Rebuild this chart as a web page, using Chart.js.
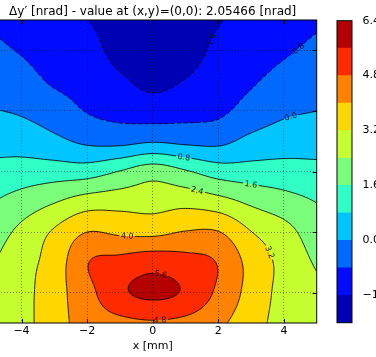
<!DOCTYPE html>
<html>
<head>
<meta charset="utf-8">
<script src="https://cdn.jsdelivr.net/npm/chart.js@4/dist/chart.umd.min.js"></script>
<style>
  html, body { margin: 0; padding: 0; background: #fff; overflow: hidden; width: 376px; height: 357px; }
  #main { position: absolute; left: -14px; top: 0; }
  #cbar { position: absolute; left: 330px; top: 0; }
</style>
</head>
<body>
<canvas id="main" width="334" height="357"></canvas>
<canvas id="cbar" width="46" height="357"></canvas>
<script>
// ---- data -------------------------------------------------------------
// sample positions of the map (mm)
const xGrid = [-5, -4, -3, -2, -1, 0, 1, 2, 3, 4, 5];
const yGrid = [5, 4, 3, 2, 1, 0, -1, -2, -3, -4, -5];

// Δy' [nrad], one row per y position (from y = 5 down to y = -5)
const row_y5  = [-0.90, -1.20, -1.50, -1.60, -1.95, -2.25, -2.00, -1.65, -1.35, -1.15, -0.93];
const row_y4  = [-0.58, -0.87, -1.25, -1.35, -1.85, -2.10, -1.95, -1.43, -1.22, -0.91, -0.62];
const row_y3  = [-0.28, -0.48, -0.92, -1.09, -1.48, -1.80, -1.57, -1.16, -0.90, -0.52, -0.31];
const row_y2  = [ 0.05, -0.09, -0.41, -0.84, -1.05, -1.19, -1.08, -0.95, -0.50, -0.13,  0.00];
const row_y1  = [ 0.52,  0.45,  0.19, -0.15, -0.23, -0.06, -0.18, -0.19,  0.22,  0.42,  0.49];
const row_y0  = [ 1.01,  1.15,  1.20,  1.23,  1.63, 2.05466, 1.68,  1.23,  1.14,  1.11,  1.01];
const row_ym1 = [ 1.53,  1.93,  2.35,  2.79,  2.88,  2.86,  2.95,  2.70,  2.25,  1.91,  1.58];
const row_ym2 = [ 1.92,  2.60,  3.30,  4.00,  3.87,  3.81,  4.04,  4.03,  3.22,  2.69,  1.94];
const row_ym3 = [ 2.30,  2.90,  3.55,  4.76,  5.05,  5.30,  5.10,  4.75,  3.72,  2.97,  2.30];
const row_ym4 = [ 2.65,  2.95,  3.68,  4.53,  5.45,  5.75,  5.50,  4.64,  3.72,  2.95,  2.60];
const row_ym5 = [ 2.75,  2.95,  3.69,  4.30,  4.55,  4.70,  4.55,  4.15,  3.54,  2.90,  2.75];

// contour levels and their fill colours (jet)
const levels = [-2.4, -1.6, -0.8, 0.0, 0.8, 1.6, 2.4, 3.2, 4.0, 4.8, 5.6, 6.4];
const bandColors = [
  'rgb(0,0,180)', 'rgb(0,11,255)', 'rgb(0,105,255)', 'rgb(0,197,255)',
  'rgb(48,255,198)', 'rgb(123,255,123)', 'rgb(198,255,48)', 'rgb(255,215,0)',
  'rgb(255,130,0)', 'rgb(255,43,0)', 'rgb(180,0,0)'
];

// tick values
const xTicks = [-4, -2, 0, 2, 4];
const yTicks = [-4, -2, 0, 2, 4];
const cbarTicks = [-1.6, 0.0, 1.6, 3.2, 4.8, 6.4];

// where the inline contour labels sit (mm)
const labelSpots = [
  { level: -1.6, x: 1.84, y: 4.27 },
  { level: -0.8, x: 4.31, y: 4.14 },
  { level:  0.0, x: 4.22, y: 1.77 },
  { level:  0.8, x: 0.95, y: 0.48 },
  { level:  1.6, x: 3.00, y: -0.38 },
  { level:  2.4, x: 1.38, y: -0.54 },
  { level:  3.2, x: 3.52, y: -2.69 },
  { level:  4.0, x: -0.78, y: -2.16 },
  { level:  5.6, x: 0.26, y: -3.32 },
  { level:  4.8, x: 0.22, y: -4.87 }
];

// ---- field interpolation (Catmull-Rom bicubic) ---------------------------
const G = [row_y5, row_y4, row_y3, row_y2, row_y1, row_y0, row_ym1, row_ym2, row_ym3, row_ym4, row_ym5];
const NR = G.length - 1, NC = G[0].length - 1;
function gval(r, c) {
  if (r < 0) return 2 * gval(0, c) - gval(1, c);
  if (r > NR) return 2 * gval(NR, c) - gval(NR - 1, c);
  if (c < 0) return 2 * gval(r, 0) - gval(r, 1);
  if (c > NC) return 2 * gval(r, NC) - gval(r, NC - 1);
  return G[r][c];
}
function cr(p0, p1, p2, p3, t) {
  return 0.5 * (2 * p1 + (-p0 + p2) * t + (2 * p0 - 5 * p1 + 4 * p2 - p3) * t * t +
                (-p0 + 3 * p1 - 3 * p2 + p3) * t * t * t);
}
function field(x, y) {
  const gx = (x - xGrid[0]) / (xGrid[1] - xGrid[0]);
  const gy = (y - yGrid[0]) / (yGrid[1] - yGrid[0]);
  const c = Math.min(Math.max(Math.floor(gx), 0), NC - 1);
  const r = Math.min(Math.max(Math.floor(gy), 0), NR - 1);
  const tx = gx - c, ty = gy - r;
  const v = [];
  for (let k = -1; k <= 2; k++) {
    v.push(cr(gval(r + k, c - 1), gval(r + k, c), gval(r + k, c + 1), gval(r + k, c + 2), tx));
  }
  return cr(v[0], v[1], v[2], v[3], ty);
}
function bandOf(v) {
  let k = 0;
  while (k < bandColors.length - 1 && v >= levels[k + 1]) k++;
  return k;
}

// ---- marching squares with segment chaining ------------------------------
const NS = 201;
const xs = [], ys = [];
for (let i = 0; i < NS; i++) {
  xs.push(-5 + 10 * i / (NS - 1));
  ys.push(-5 + 10 * i / (NS - 1));
}
const F = ys.map(y => xs.map(x => field(x, y)));

function traceLevel(lev) {
  const pts = new Map();
  const segs = [];
  const edge = (type, j, i) => {
    const key = type + j + ',' + i;
    if (!pts.has(key)) {
      let p;
      if (type === 'h') {
        const a = F[j][i], b = F[j][i + 1], t = (lev - a) / (b - a);
        p = [xs[i] + t * (xs[i + 1] - xs[i]), ys[j]];
      } else {
        const a = F[j][i], b = F[j + 1][i], t = (lev - a) / (b - a);
        p = [xs[i], ys[j] + t * (ys[j + 1] - ys[j])];
      }
      pts.set(key, p);
    }
    return key;
  };
  for (let j = 0; j < NS - 1; j++) {
    for (let i = 0; i < NS - 1; i++) {
      const a = F[j][i], b = F[j][i + 1], c = F[j + 1][i + 1], d = F[j + 1][i];
      const code = (a >= lev ? 1 : 0) | (b >= lev ? 2 : 0) | (c >= lev ? 4 : 0) | (d >= lev ? 8 : 0);
      if (code === 0 || code === 15) continue;
      const B = () => edge('h', j, i), T = () => edge('h', j + 1, i);
      const L = () => edge('v', j, i), R = () => edge('v', j, i + 1);
      const centre = (a + b + c + d) / 4 >= lev;
      switch (code) {
        case 1: case 14: segs.push([L(), B()]); break;
        case 2: case 13: segs.push([B(), R()]); break;
        case 3: case 12: segs.push([L(), R()]); break;
        case 4: case 11: segs.push([R(), T()]); break;
        case 6: case 9: segs.push([B(), T()]); break;
        case 7: case 8: segs.push([L(), T()]); break;
        case 5:
          if (centre) { segs.push([B(), R()]); segs.push([T(), L()]); }
          else { segs.push([L(), B()]); segs.push([R(), T()]); }
          break;
        case 10:
          if (centre) { segs.push([L(), B()]); segs.push([R(), T()]); }
          else { segs.push([B(), R()]); segs.push([T(), L()]); }
          break;
      }
    }
  }
  const adj = new Map();
  segs.forEach((s, k) => {
    for (const key of s) {
      if (!adj.has(key)) adj.set(key, []);
      adj.get(key).push(k);
    }
  });
  const used = new Array(segs.length).fill(false);
  const lines = [];
  const walk = (startKey, fromSeg) => {
    const out = [];
    let key = startKey, seg = fromSeg;
    while (true) {
      const next = (adj.get(key) || []).find(k => k !== seg && !used[k]);
      if (next === undefined) break;
      used[next] = true;
      const s = segs[next];
      key = s[0] === key ? s[1] : s[0];
      out.push(key);
      seg = next;
    }
    return out;
  };
  for (let k = 0; k < segs.length; k++) {
    if (used[k]) continue;
    used[k] = true;
    const fwd = walk(segs[k][1], k);
    const back = walk(segs[k][0], k);
    const keys = back.reverse().concat([segs[k][0], segs[k][1]], fwd);
    lines.push(keys.map(key => pts.get(key)));
  }
  return lines;
}
const contourLines = levels.slice(1, -1).map(lev => ({ lev, lines: traceLevel(lev) }));

// ---- plugins -------------------------------------------------------------
const FONT = 'DejaVu Sans';
const fmtMinus = v => (v < 0 ? '\u2212' : '') + Math.abs(v).toFixed(1);

const contourPlugin = {
  id: 'contourMap',
  beforeDatasetsDraw(chart) {
    const { ctx, chartArea: a, scales: { x, y } } = chart;
    const x0 = Math.floor(a.left), y0 = Math.floor(a.top);
    const w = Math.ceil(a.right) - x0, h = Math.ceil(a.bottom) - y0;
    const off = document.createElement('canvas');
    off.width = w; off.height = h;
    const octx = off.getContext('2d');
    const img = octx.createImageData(w, h);
    const rgb = bandColors.map(c => c.match(/\d+/g).map(Number));
    for (let j = 0; j < h; j++) {
      const yv = y.getValueForPixel(y0 + j + 0.5);
      for (let i = 0; i < w; i++) {
        const xv = x.getValueForPixel(x0 + i + 0.5);
        const col = rgb[bandOf(field(xv, yv))];
        const p = (j * w + i) * 4;
        img.data[p] = col[0]; img.data[p + 1] = col[1]; img.data[p + 2] = col[2]; img.data[p + 3] = 255;
      }
    }
    octx.putImageData(img, 0, 0);
    ctx.save();
    ctx.beginPath();
    ctx.rect(a.left, a.top, a.right - a.left, a.bottom - a.top);
    ctx.clip();
    ctx.drawImage(off, x0, y0);
    ctx.restore();
  },
  afterDatasetsDraw(chart) {
    const { ctx, chartArea: a, scales: { x, y } } = chart;
    const valAt = (px, py) => field(x.getValueForPixel(px), y.getValueForPixel(py));
    ctx.save();
    ctx.font = '8px "' + FONT + '"';
    // place labels on their contour and orient them along it
    const placed = labelSpots.map(s => {
      let px = x.getPixelForValue(s.x), py = y.getPixelForValue(s.y);
      let ang = 0;
      for (let it = 0; it < 6; it++) {
        const gx = (valAt(px + 1, py) - valAt(px - 1, py)) / 2;
        const gy = (valAt(px, py + 1) - valAt(px, py - 1)) / 2;
        const g2 = gx * gx + gy * gy;
        const dv = s.level - valAt(px, py);
        if (g2 > 1e-9) { px += dv * gx / g2; py += dv * gy / g2; }
        ang = Math.atan2(gx, -gy);
      }
      if (ang > Math.PI / 2) ang -= Math.PI;
      if (ang < -Math.PI / 2) ang += Math.PI;
      const text = s.level.toFixed(1);
      const tw = ctx.measureText(text).width;
      return { px, py, ang, text, tw };
    });
    // contour lines with gaps under the labels
    const clip = new Path2D();
    clip.rect(a.left, a.top, a.right - a.left, a.bottom - a.top);
    placed.forEach(p => {
      const hw = p.tw / 2 + 1.5, hh = 4.5;
      const c = Math.cos(p.ang), s = Math.sin(p.ang);
      const corner = (u, v) => [p.px + u * c - v * s, p.py + u * s + v * c];
      const q = [corner(-hw, -hh), corner(hw, -hh), corner(hw, hh), corner(-hw, hh)];
      clip.moveTo(q[0][0], q[0][1]);
      for (let k = 1; k < 4; k++) clip.lineTo(q[k][0], q[k][1]);
      clip.closePath();
    });
    ctx.save();
    ctx.clip(clip, 'evenodd');
    ctx.lineWidth = 1;
    ctx.strokeStyle = 'rgba(0,0,0,0.85)';
    ctx.lineJoin = 'round';
    contourLines.forEach(({ lev, lines }) => {
      ctx.setLineDash(lev < 0 ? [4, 2.5] : []);
      ctx.beginPath();
      lines.forEach(line => {
        line.forEach((pt, k) => {
          const px = x.getPixelForValue(pt[0]), py = y.getPixelForValue(pt[1]);
          if (k === 0) ctx.moveTo(px, py); else ctx.lineTo(px, py);
        });
      });
      ctx.stroke();
    });
    ctx.restore();
    // label text
    ctx.fillStyle = '#111';
    ctx.textAlign = 'center';
    ctx.textBaseline = 'middle';
    placed.forEach(p => {
      ctx.save();
      ctx.translate(p.px, p.py);
      ctx.rotate(p.ang);
      ctx.fillText(p.text, 0, 0.5);
      ctx.restore();
    });
    ctx.restore();
  },
  afterDraw(chart) {
    const { ctx, chartArea: a, scales: { x, y } } = chart;
    ctx.save();
    ctx.strokeStyle = '#000';
    ctx.lineWidth = 1;
    ctx.beginPath();
    const tl = 4;
    xTicks.forEach(v => {
      const px = Math.round(x.getPixelForValue(v)) + 0.5;
      ctx.moveTo(px, a.bottom); ctx.lineTo(px, a.bottom - tl);
      ctx.moveTo(px, a.top); ctx.lineTo(px, a.top + tl);
    });
    yTicks.forEach(v => {
      const py = Math.round(y.getPixelForValue(v)) + 0.5;
      ctx.moveTo(a.left, py); ctx.lineTo(a.left + tl, py);
      ctx.moveTo(a.right, py); ctx.lineTo(a.right - tl, py);
    });
    ctx.stroke();
    ctx.strokeRect(a.left, a.top, a.right - a.left, a.bottom - a.top);
    ctx.restore();
  }
};

// ---- main contour chart ---------------------------------------------------
new Chart(document.getElementById('main'), {
  type: 'scatter',
  data: { datasets: [] },
  options: {
    responsive: false,
    animation: false,
    events: [],
    layout: { padding: { left: 2.7, right: 3.3, top: 0, bottom: 0 } },
    plugins: {
      legend: { display: false },
      tooltip: { enabled: false },
      title: {
        display: true,
        text: 'Δy′ [nrad] - value at (x,y)=(0,0): ' + row_y0[xGrid.indexOf(0)].toFixed(5) + ' [nrad]',
        color: '#000',
        font: { family: FONT, size: 12, weight: 'normal' },
        padding: { top: 5, bottom: 0.6 }
      }
    },
    scales: {
      x: {
        type: 'linear', min: -5, max: 5, position: 'bottom',
        afterBuildTicks: s => { s.ticks = xTicks.map(v => ({ value: v })); },
        afterFit: s => { s.height = 34; },
        grid: { z: 1, color: 'rgba(0,0,0,0.45)', lineWidth: 1, drawTicks: false },
        border: { display: false, dash: [1, 2] },
        ticks: {
          padding: 2, color: '#000', font: { family: FONT, size: 11 },
          callback: v => (v < 0 ? '\u2212' : '') + Math.abs(v)
        },
        title: {
          display: true, text: 'x [mm]', color: '#000',
          font: { family: FONT, size: 11 }, padding: { top: 0, bottom: 4.4 }
        }
      },
      y: {
        type: 'linear', min: -5, max: 5, position: 'left',
        afterBuildTicks: s => { s.ticks = yTicks.map(v => ({ value: v })); },
        afterFit: s => { s.width = 0; },
        grid: { z: 1, color: 'rgba(0,0,0,0.45)', lineWidth: 1, drawTicks: false },
        border: { display: false, dash: [1, 2] },
        ticks: { display: false }
      }
    }
  },
  plugins: [contourPlugin]
});

// ---- colour bar -------------------------------------------------------------
const cbarFrame = {
  id: 'cbarFrame',
  afterDraw(chart) {
    const { ctx, chartArea: a } = chart;
    ctx.save();
    ctx.strokeStyle = '#000';
    ctx.lineWidth = 1;
    ctx.strokeRect(a.left, a.top, a.right - a.left, a.bottom - a.top);
    ctx.restore();
  }
};
new Chart(document.getElementById('cbar'), {
  type: 'bar',
  data: {
    labels: [''],
    datasets: bandColors.map((col, k) => ({
      data: [[levels[k], levels[k + 1]]],
      backgroundColor: col,
      borderWidth: 0,
      barPercentage: 1,
      categoryPercentage: 1,
      grouped: false
    }))
  },
  options: {
    responsive: false,
    animation: false,
    events: [],
    layout: { padding: { left: 7, right: 0, top: 20.7, bottom: 34.3 } },
    plugins: { legend: { display: false }, tooltip: { enabled: false } },
    scales: {
      x: { display: false },
      y: {
        position: 'right', min: levels[0], max: levels[levels.length - 1],
        afterBuildTicks: s => { s.ticks = cbarTicks.map(v => ({ value: v })); },
        afterFit: s => { s.width = 24; },
        grid: { display: false },
        border: { display: false },
        ticks: {
          padding: 2.5, color: '#000', font: { family: FONT, size: 11 },
          callback: v => fmtMinus(v)
        }
      }
    }
  },
  plugins: [cbarFrame]
});
</script>
</body>
</html>
